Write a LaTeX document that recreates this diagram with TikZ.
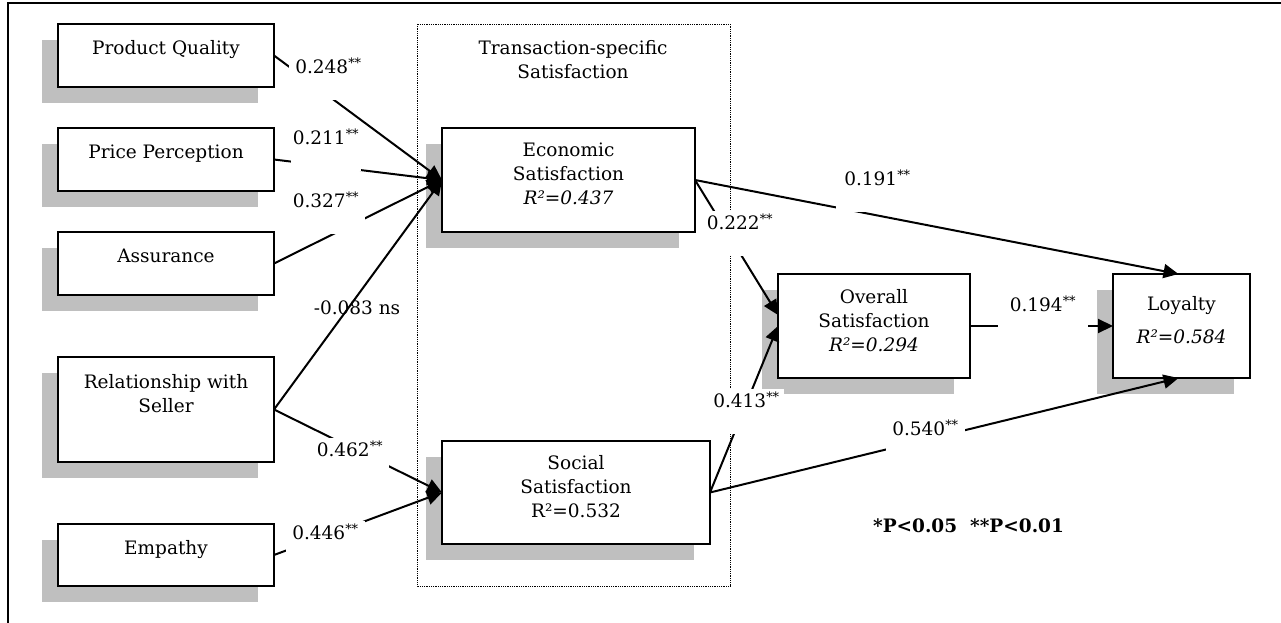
\documentclass[tikz,border=0pt]{standalone}
\usepackage{fontspec}
\setmainfont{DejaVu Serif}
\usetikzlibrary{arrows.meta,shadows}
\definecolor{shadowgray}{HTML}{BFBFBF}

\begin{document}
\begin{tikzpicture}[x=1pt,y=-1pt,
  every node/.style={font=\fontsize{18.5}{24}\selectfont},
  factor/.style={draw, line width=2pt, fill=white, align=center, inner sep=0pt, outer sep=0pt,
    general shadow={draw=none, fill=shadowgray, shadow xshift=-16pt, shadow yshift=-16pt}},
  coef/.style={fill=white, inner xsep=6pt, inner ysep=3pt, text depth=23pt, anchor=mid},
  link/.style={line width=2pt, -{Triangle[length=15pt,width=14pt]}}]
\useasboundingbox (0,0) rectangle (1281,623);
\draw [line width=2pt] (8,623) -- (8,3) -- (1281,3);
\draw [densely dotted, line width=0.8pt] (417,24) rectangle (730,586);
\node (title) at (573,60) [align=center] {Transaction-specific\\Satisfaction};

\node [factor, minimum width=216pt, minimum height=63pt] (pq) at (166,55.5) {Product Quality\\[-8pt]\mbox{}};
\node [factor, minimum width=216pt, minimum height=63pt] (pp) at (166,159.5) {Price Perception\\[-8pt]\mbox{}};
\node [factor, minimum width=216pt, minimum height=63pt] (as) at (166,263.5) {Assurance\\[-8pt]\mbox{}};
\node [factor, minimum width=216pt, minimum height=105pt] (rel) at (166,409.5) {Relationship with\\Seller\\[8pt]\mbox{}};
\node [factor, minimum width=216pt, minimum height=62pt] (emp) at (166,555) {Empathy\\[-8pt]\mbox{}};
\node [factor, minimum width=253pt, minimum height=104pt] (eco) at (568.5,180) {Economic\\Satisfaction\\\textit{R²=0.437}\\[-12pt]\mbox{}};
\node [factor, minimum width=268pt, minimum height=103pt] (soc) at (576,492.5) {Social\\Satisfaction\\R²=0.532\\[-12pt]\mbox{}};
\node [factor, minimum width=192pt, minimum height=104pt] (ovr) at (874,326) {Overall\\Satisfaction\\\textit{R²=0.294}\\[-12pt]\mbox{}};
\node [factor, minimum width=137pt, minimum height=104pt] (loy) at (1181.5,326) {Loyalty\\[9pt]\textit{R²=0.584}\\[-12pt]\mbox{}};

\node (c4) at (357,308) {-0.083 ns};

\draw [link] (pq.east) -- (eco.west);
\draw [link] (pp.east) -- (eco.west);
\draw [link] (as.east) -- (eco.west);
\draw [link] (rel.east) -- (eco.west);
\draw [link] (rel.east) -- (soc.west);
\draw [link] (emp.east) -- (soc.west);
\draw [link] (eco.east) -- ([yshift=11pt]ovr.west);
\draw [link] (eco.east) -- ([xshift=-3pt]loy.north);
\draw [link] (soc.east) -- (ovr.west);
\draw [link] (soc.east) -- ([xshift=-3pt]loy.south);
\draw [link] (ovr.east) -- (loy.west);

\node [coef] (c1) at (328.5,71) {0.248\textsuperscript{**}};
\node [coef, inner xsep=2pt] (c2) at (326,142) {0.211\textsuperscript{**}};
\node [coef] (c3) at (326,205) {0.327\textsuperscript{**}};
\node [coef] (c5) at (350,454) {0.462\textsuperscript{**}};
\node [coef] (c6) at (325.5,537) {0.446\textsuperscript{**}};
\node [coef, inner xsep=8pt] (c7) at (877.5,183) {0.191\textsuperscript{**}};
\node [coef, inner xsep=3pt] (c8) at (740,227) {0.222\textsuperscript{**}};
\node [coef, inner xsep=4pt] (c9) at (746.5,405) {0.413\textsuperscript{**}};
\node [coef] (c10) at (925.5,433) {0.540\textsuperscript{**}};
\node [coef, inner xsep=12pt] (c11) at (1043,309) {0.194\textsuperscript{**}};

\node [font=\fontsize{18.5}{24}\selectfont\bfseries] (note) at (968.5,526) {*P<0.05\ \ **P<0.01};
\end{tikzpicture}
\end{document}
